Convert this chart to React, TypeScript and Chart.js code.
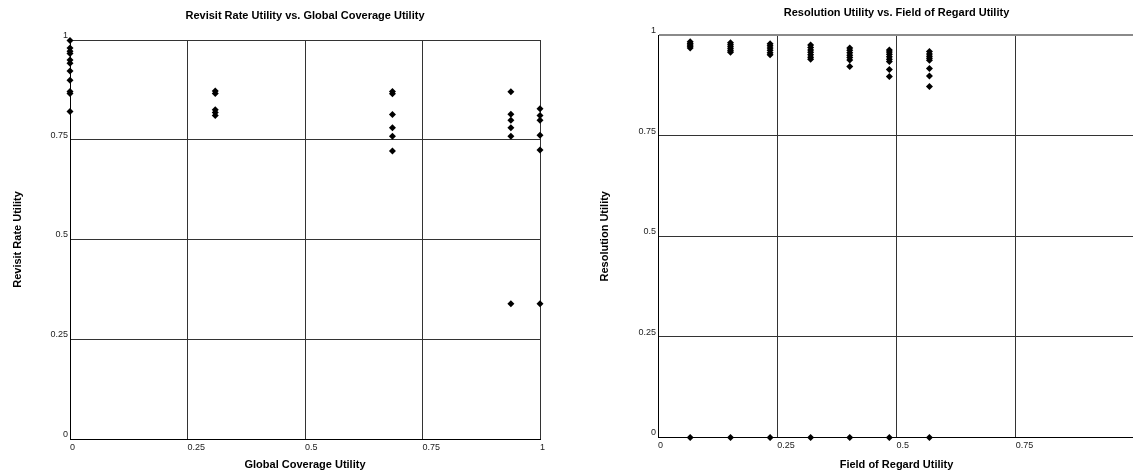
import React, { useEffect, useRef } from 'react';
import { Chart, registerables } from 'chart.js';

Chart.register(...registerables);

const FONT = "'Liberation Sans', Arial, Helvetica, sans-serif";

// ---- shared ticks ----
const tickValues = [0, 0.25, 0.5, 0.75, 1];
const tickLabels = ['0', '0.25', '0.5', '0.75', '1'];

// ---- left chart: Revisit Rate vs Global Coverage ----
const leftTitle = 'Revisit Rate Utility vs. Global Coverage Utility';
const leftXTitle = 'Global Coverage Utility';
const leftYTitle = 'Revisit Rate Utility';
const globalCoverageLevels = [0, 0.309, 0.686, 0.938, 1];
const revisitAtCoverage0 = [0.999, 0.98, 0.972, 0.966, 0.95, 0.942, 0.922, 0.899, 0.871, 0.866, 0.821];
const revisitAtCoverage1 = [0.872, 0.866, 0.825, 0.818, 0.811];
const revisitAtCoverage2 = [0.871, 0.865, 0.813, 0.78, 0.759, 0.722];
const revisitAtCoverage3 = [0.87, 0.814, 0.799, 0.78, 0.759, 0.339];
const revisitAtCoverage4 = [0.828, 0.811, 0.799, 0.761, 0.724, 0.339];
const revisitColumns = [revisitAtCoverage0, revisitAtCoverage1, revisitAtCoverage2, revisitAtCoverage3, revisitAtCoverage4];

// ---- right chart: Resolution vs Field of Regard ----
const rightTitle = 'Resolution Utility vs. Field of Regard Utility';
const rightXTitle = 'Field of Regard Utility';
const rightYTitle = 'Resolution Utility';
const fieldOfRegardLevels = [0.0675, 0.152, 0.235, 0.32, 0.402, 0.485, 0.569];
const resolutionAtFor0 = [0.983, 0.979, 0.975, 0.972, 0.968, 0];
const resolutionAtFor1 = [0.981, 0.976, 0.971, 0.966, 0.961, 0.957, 0];
const resolutionAtFor2 = [0.978, 0.973, 0.968, 0.962, 0.956, 0.951, 0];
const resolutionAtFor3 = [0.975, 0.969, 0.963, 0.957, 0.951, 0.945, 0.94, 0];
const resolutionAtFor4 = [0.968, 0.962, 0.956, 0.95, 0.944, 0.938, 0.922, 0];
const resolutionAtFor5 = [0.963, 0.958, 0.952, 0.946, 0.94, 0.934, 0.914, 0.897, 0];
const resolutionAtFor6 = [0.959, 0.953, 0.947, 0.942, 0.937, 0.917, 0.898, 0.872, 0];
const resolutionColumns = [
  resolutionAtFor0, resolutionAtFor1, resolutionAtFor2, resolutionAtFor3,
  resolutionAtFor4, resolutionAtFor5, resolutionAtFor6,
];

function buildPoints(levels: number[], cols: number[][]) {
  const pts: { x: number; y: number }[] = [];
  levels.forEach((x, i) => cols[i].forEach((y) => pts.push({ x, y })));
  return pts;
}

type Geo = {
  yAxisWidth: number;
  xAxisHeight: number;
  titleTop: number;
  titleBottom: number;
  rightPad: number;
  yTitlePad: number;
  grayTop?: boolean;
};

function fmt(v: any) {
  const i = tickValues.indexOf(Number(v));
  return i >= 0 ? tickLabels[i] : String(v);
}

function makeConfig(title: string, xTitle: string, yTitle: string, points: any[], g: Geo): any {
  return {
    type: 'scatter',
    data: {
      datasets: [
        {
          data: points,
          pointStyle: 'rectRot',
          pointRadius: 3.5,
          pointHoverRadius: 3.5,
          backgroundColor: '#000',
          borderWidth: 0,
          clip: false,
        },
      ],
    },
    options: {
      responsive: false,
      animation: false,
      events: [],
      layout: { padding: { left: 0, right: g.rightPad, top: 0, bottom: 0 } },
      plugins: {
        legend: { display: false },
        tooltip: { enabled: false },
        title: {
          display: true,
          text: title,
          fullSize: false,
          color: '#000',
          font: { family: FONT, size: 11, weight: 'bold' },
          padding: { top: g.titleTop, bottom: g.titleBottom },
        },
      },
      scales: {
        x: {
          type: 'linear',
          min: 0,
          max: 1,
          ticks: {
            stepSize: 0.25,
            align: 'start',
            padding: 3,
            color: '#222',
            font: { family: FONT, size: 9 },
            callback: (v: any) => fmt(v),
            maxRotation: 0,
          },
          grid: { color: '#333', lineWidth: 1, drawTicks: false },
          border: { display: true, color: '#000', width: 1 },
          title: {
            display: true,
            text: xTitle,
            color: '#000',
            font: { family: FONT, size: 11, weight: 'bold' },
            padding: { top: 0, bottom: 3.4 },
          },
          afterFit: (s: any) => {
            s.height = g.xAxisHeight;
          },
        },
        y: {
          type: 'linear',
          min: 0,
          max: 1,
          ticks: {
            stepSize: 0.25,
            align: 'end',
            padding: 2,
            color: '#222',
            font: { family: FONT, size: 9 },
            callback: (v: any) => fmt(v),
          },
          grid: {
            drawTicks: false,
            color: (ctx: any) => (g.grayTop && ctx.tick && ctx.tick.value === 1 ? '#8a8a8a' : '#333'),
            lineWidth: (ctx: any) => (g.grayTop && ctx.tick && ctx.tick.value === 1 ? 2 : 1),
          },
          border: { display: true, color: '#000', width: 1 },
          title: {
            display: true,
            text: yTitle,
            color: '#000',
            font: { family: FONT, size: 11, weight: 'bold' },
            padding: { top: g.yTitlePad, bottom: 0 },
          },
          afterFit: (s: any) => {
            s.width = g.yAxisWidth;
          },
        },
      },
    },
  };
}

export default function App() {
  const leftRef = useRef<HTMLCanvasElement | null>(null);
  const rightRef = useRef<HTMLCanvasElement | null>(null);

  useEffect(() => {
    const left = new Chart(
      leftRef.current as HTMLCanvasElement,
      makeConfig(leftTitle, leftXTitle, leftYTitle, buildPoints(globalCoverageLevels, revisitColumns), {
        yAxisWidth: 70,
        xAxisHeight: 36,
        titleTop: 9.4,
        titleBottom: 17.4,
        rightPad: 20,
        yTitlePad: 11.4,
      })
    );
    const right = new Chart(
      rightRef.current as HTMLCanvasElement,
      makeConfig(rightTitle, rightXTitle, rightYTitle, buildPoints(fieldOfRegardLevels, resolutionColumns), {
        yAxisWidth: 78,
        xAxisHeight: 37.5,
        titleTop: 6.4,
        titleBottom: 15.4,
        rightPad: 20,
        yTitlePad: 18.4,
        grayTop: true,
      })
    );
    return () => {
      left.destroy();
      right.destroy();
    };
  }, []);

  return (
    <div
      style={{
        position: 'fixed',
        left: 0,
        top: 0,
        width: 1133,
        height: 475,
        overflow: 'hidden',
        background: '#fff',
      }}
    >
      <canvas
        ref={leftRef}
        width={560}
        height={475}
        style={{ position: 'absolute', left: 0, top: 0, width: 560, height: 475 }}
      />
      <canvas
        ref={rightRef}
        width={575}
        height={475}
        style={{ position: 'absolute', left: 580, top: 0, width: 575, height: 475 }}
      />
    </div>
  );
}
